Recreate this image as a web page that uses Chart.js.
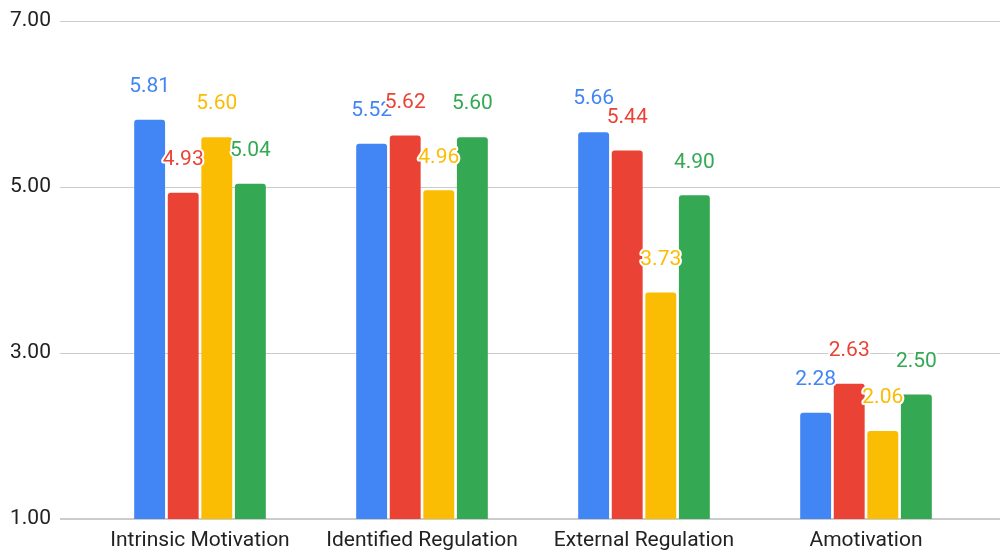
<!DOCTYPE html>
<html>
<head>
<meta charset="utf-8">
<script src="https://cdn.jsdelivr.net/npm/chart.js@4"></script>
<style>
  html, body { margin: 0; padding: 0; background: #fff; }
  #wrap { width: 1002px; height: 552px; }
</style>
</head>
<body>
<div id="wrap"><canvas id="chart" width="1002" height="552"></canvas></div>
<script>
const categories = ['Intrinsic Motivation', 'Identified Regulation', 'External Regulation', 'Amotivation'];
const seriesA = [5.81, 5.52, 5.66, 2.28];
const seriesB = [4.93, 5.62, 5.44, 2.63];
const seriesC = [5.60, 4.96, 3.73, 2.06];
const seriesD = [5.04, 5.60, 4.90, 2.50];
const yTicks = [1, 3, 5, 7];

const colors = ['#4285F4', '#EA4335', '#FBBC04', '#34A853'];
const FONT = 'Roboto, "Noto Sans", sans-serif';

// horizontal grid lines run wider than the bar area
const gridLines = {
  id: 'gridLines',
  beforeDatasetsDraw(chart) {
    const y = chart.scales.y;
    const ctx = chart.ctx;
    ctx.save();
    ctx.strokeStyle = '#cccccc';
    yTicks.forEach(v => {
      const base = v === yTicks[0];
      const py = Math.round(y.getPixelForValue(v)) + (base ? 0 : 0.5);
      ctx.lineWidth = base ? 2 : 1;
      ctx.beginPath();
      ctx.moveTo(60, py);
      ctx.lineTo(chart.width - 2, py);
      ctx.stroke();
    });
    ctx.restore();
  }
};

// value labels with white halo
const valueLabels = {
  id: 'valueLabels',
  afterDatasetsDraw(chart) {
    const ctx = chart.ctx;
    ctx.save();
    ctx.font = '21px ' + FONT;
    ctx.textAlign = 'center';
    ctx.textBaseline = 'middle';
    ctx.lineJoin = 'round';
    chart.data.datasets.forEach((ds, i) => {
      const meta = chart.getDatasetMeta(i);
      meta.data.forEach((bar, j) => {
        const txt = ds.data[j].toFixed(2);
        const ty = bar.y - 33;
        ctx.strokeStyle = '#ffffff';
        ctx.lineWidth = 4;
        ctx.strokeText(txt, bar.x, ty);
        ctx.fillStyle = ds.backgroundColor;
        ctx.fillText(txt, bar.x, ty);
      });
    });
    ctx.restore();
  }
};

new Chart(document.getElementById('chart'), {
  type: 'bar',
  data: {
    labels: categories,
    datasets: [
      { label: 'Series 1', data: seriesA, backgroundColor: colors[0] },
      { label: 'Series 2', data: seriesB, backgroundColor: colors[1] },
      { label: 'Series 3', data: seriesC, backgroundColor: colors[2] },
      { label: 'Series 4', data: seriesD, backgroundColor: colors[3] },
    ].map(d => Object.assign(d, {
      borderRadius: 3,
      categoryPercentage: 0.605,
      barPercentage: 0.92,
    })),
  },
  options: {
    responsive: false,
    animation: false,
    layout: { padding: { top: 21, right: 25, left: 10, bottom: 0 } },
    plugins: {
      legend: { display: false },
      tooltip: { enabled: false },
    },
    scales: {
      x: {
        grid: { display: false, drawTicks: false },
        border: { display: false },
        afterFit(scale) { scale.height = 33; },
        ticks: {
          color: '#222222',
          font: { family: FONT, size: 21 },
          padding: 9,
          maxRotation: 0,
          autoSkip: false,
        },
      },
      y: {
        min: 1,
        max: 7,
        grid: { display: false, drawTicks: false },
        border: { display: false },
        afterFit(scale) { scale.width = 79; },
        afterBuildTicks(scale) {
          scale.ticks = yTicks.map(v => ({ value: v }));
        },
        ticks: {
          color: '#222222',
          font: { family: FONT, size: 21 },
          padding: 0,
          crossAlign: 'far',
          callback: v => v.toFixed(2),
        },
      },
    },
  },
  plugins: [gridLines, valueLabels],
});
</script>
</body>
</html>
